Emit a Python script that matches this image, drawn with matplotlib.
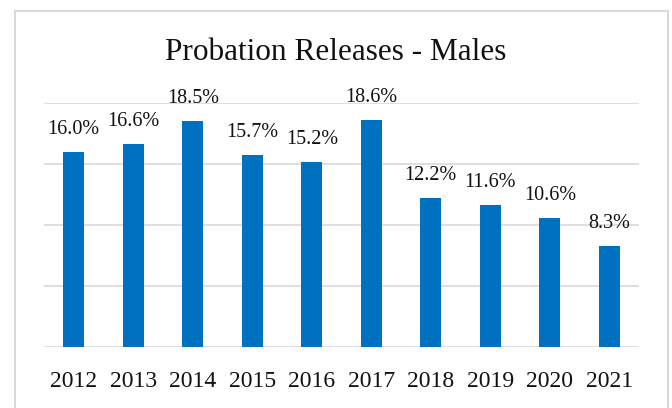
import matplotlib
matplotlib.use("Agg")
import matplotlib.pyplot as plt
from matplotlib.lines import Line2D

years = ["2012", "2013", "2014", "2015", "2016", "2017", "2018", "2019", "2020", "2021"]
rates = [16.0, 16.6, 18.5, 15.7, 15.2, 18.6, 12.2, 11.6, 10.6, 8.3]

plt.rcParams['font.family'] = ['Liberation Serif', 'DejaVu Serif']

fig = plt.figure(figsize=(6.72, 4.08), dpi=100)
ax = fig.add_axes([0.0655, 0.1495, 0.8855, 0.598])

x = range(len(years))
bars = ax.bar(x, rates, width=0.35, color="#0070C0", zorder=3)

for xi, v in zip(x, rates):
    ax.annotate(f"{v:.1f}%", (xi, v), xytext=(0, 13), textcoords="offset points",
                ha="center", va="baseline", fontsize=14.5, color="#111111")

ax.set_ylim(0, 20)
ax.set_xlim(-0.5, len(years) - 0.5)
ax.set_yticks([0, 5, 10, 15, 20])
ax.yaxis.grid(True, color="#D9D9D9", linewidth=1.2, zorder=0)
ax.tick_params(axis="y", left=False, labelleft=False)
ax.tick_params(axis="x", bottom=False, pad=14, labelsize=17, labelcolor="#111111")
ax.set_xticks(list(x))
ax.set_xticklabels(years)
for s in ax.spines.values():
    s.set_visible(False)

fig.text(0.5, 0.872, "Probation Releases - Males", ha="center", va="center",
         fontsize=22.5, color="#111111")

# chart border
fc = "#D9D9D9"
fig.add_artist(Line2D([15/672, 15/672], [0, 1 - 11/408], color=fc, lw=1.5))
fig.add_artist(Line2D([668/672, 668/672], [0, 1 - 11/408], color=fc, lw=1.5))
fig.add_artist(Line2D([15/672, 668/672], [1 - 11/408, 1 - 11/408], color=fc, lw=1.5))

fig.savefig("out.png", dpi=100)
